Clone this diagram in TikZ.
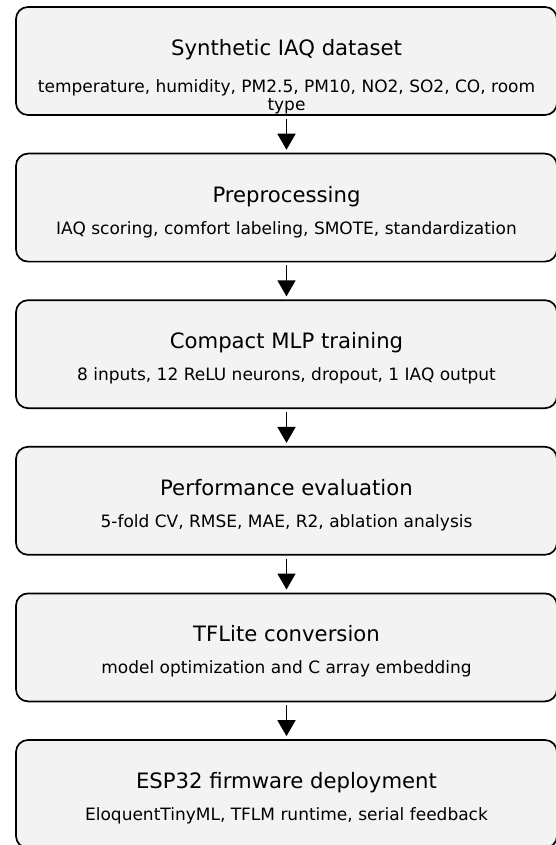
\documentclass[tikz,border=0pt]{standalone}
\usepackage{fontspec}
\setmainfont{DejaVu Sans}
\usetikzlibrary{arrows.meta}
\definecolor{boxfill}{RGB}{243,243,243}
\definecolor{inkline}{RGB}{0,0,0}
\tikzset{
  stagebox/.style={draw=inkline, line width=1.7pt, rounded corners=12pt, fill=boxfill,
    minimum width=541pt, minimum height=108pt, inner sep=0pt},
  stagetitle/.style={anchor=base, font=\fontsize{21.2}{25}\selectfont, inner sep=0pt},
  stagesub/.style={anchor=base, font=\fontsize{17}{20}\selectfont, inner sep=0pt},
  flow/.style={-{Triangle[length=16pt,width=18pt]}, line width=1.7pt,
    shorten <=3pt, shorten >=3pt}
}
\begin{document}
\begin{tikzpicture}[x=1pt,y=-1pt]
\useasboundingbox (0,0) rectangle (555,845);

% stage boxes, top to bottom
\node[stagebox] (s1) at (286.5,61) {};
\node[stagebox] (s2) at (286.5,207.6) {};
\node[stagebox] (s3) at (286.5,354.2) {};
\node[stagebox] (s4) at (286.5,500.8) {};
\node[stagebox] (s5) at (286.5,647.4) {};
\node[stagebox] (s6) at (286.5,794) {};

% titles and descriptions
\node[stagetitle] (t1) at (286.5,56) {Synthetic IAQ dataset};
\node[stagesub] (d1a) at (286.5,92.5) {temperature, humidity, PM2.5, PM10, NO2, SO2, CO, room};
\node[stagesub] (d1b) at (286.5,110.5) {type};

\node[stagetitle] (t2) at (286.5,202) {Preprocessing};
\node[stagesub] (d2) at (286.5,234) {IAQ scoring, comfort labeling, SMOTE, standardization};

\node[stagetitle] (t3) at (286.5,348.6) {Compact MLP training};
\node[stagesub] (d3) at (286.5,380.6) {8 inputs, 12 ReLU neurons, dropout, 1 IAQ output};

\node[stagetitle] (t4) at (286.5,495.2) {Performance evaluation};
\node[stagesub] (d4) at (286.5,527.2) {5-fold CV, RMSE, MAE, R2, ablation analysis};

\node[stagetitle] (t5) at (286.5,641.8) {TFLite conversion};
\node[stagesub] (d5) at (286.5,673.8) {model optimization and C array embedding};

\node[stagetitle] (t6) at (286.5,788.4) {ESP32 firmware deployment};
\node[stagesub] (d6) at (286.5,820.4) {EloquentTinyML, TFLM runtime, serial feedback};

% connectors between stages
\draw[flow] (s1.south) -- (s2.north);
\draw[flow] (s2.south) -- (s3.north);
\draw[flow] (s3.south) -- (s4.north);
\draw[flow] (s4.south) -- (s5.north);
\draw[flow] (s5.south) -- (s6.north);
\end{tikzpicture}
\end{document}
